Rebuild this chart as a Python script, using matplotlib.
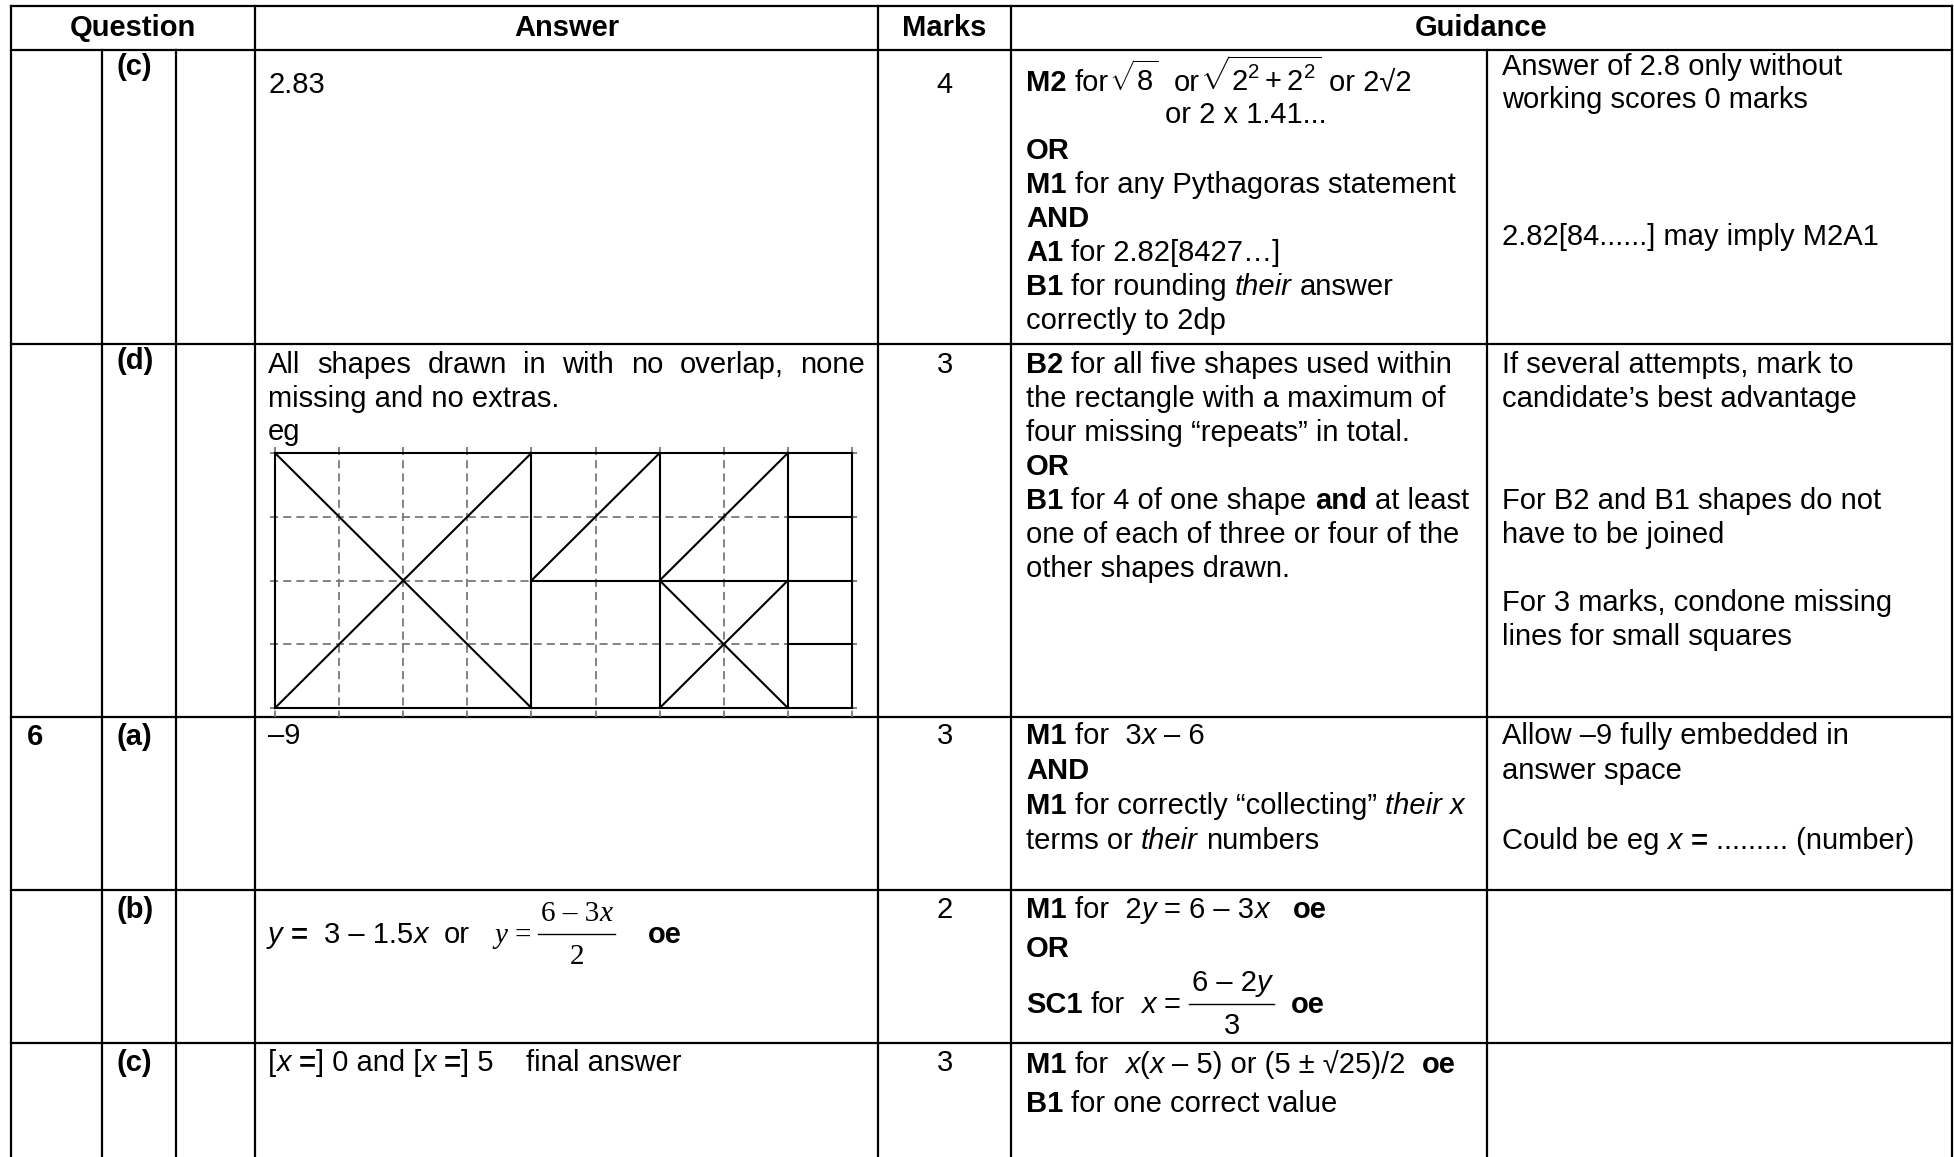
import matplotlib
matplotlib.use('Agg')
import matplotlib.pyplot as plt

plt.rcParams['mathtext.fontset'] = 'custom'
plt.rcParams['mathtext.rm'] = 'Liberation Sans'
plt.rcParams['mathtext.it'] = 'Liberation Sans:italic'
plt.rcParams['mathtext.bf'] = 'Liberation Sans:bold'

# ---- contenu du tableau ----
HEADERS = ['Question', 'Answer', 'Marks', 'Guidance']
Q_NUMBERS = ['', '', '6', '', '']
Q_PARTS = ['(c)', '(d)', '(a)', '(b)', '(c)']
MARKS = ['4', '3', '3', '2', '3']

# runs : (texte, style)  b=gras i=italique s=serif m=mathtext ; fraction = (num, 'f', den)
ANSWER_C = [[('2.83', '')]]
ANSWER_D = ['All shapes drawn in with no overlap, none', 'missing and no extras.', 'eg']
ANSWER_6A = [[('–9', '')]]
ANSWER_6B = [[('y', 'i'), (' = ', 'b'), (' 3 – 1.5', ''), ('x', 'i'), ('  or   ', ''),
              ('y', 'si'), (' = ', 's'),
              ([('6 – 3', 's'), ('x', 'si')], 'f', [('2', 's')]),
              ('    oe', 'b')]]
ANSWER_6C = [[('[', ''), ('x', 'i'), (' =', 'b'), ('] 0 and [', ''), ('x', 'i'), (' =', 'b'),
              ('] 5    final answer', '')]]

GUIDE_C = [
    [('M2', 'b'), (' for', ''), (r'$\sqrt{8}$', 'm'), ('  or', ''), (r'$\sqrt{2^2+2^2}$', 'm'), (' or 2√2', '')],
    [('or 2 x 1.41...', '')],
    [('OR', 'b')],
    [('M1', 'b'), (' for any Pythagoras statement', '')],
    [('AND', 'b')],
    [('A1', 'b'), (' for 2.82[8427…]', '')],
    [('B1', 'b'), (' for rounding ', ''), ('their', 'i'), (' answer', '')],
    [('correctly to 2dp', '')],
]
GUIDE_D = [
    [('B2', 'b'), (' for all five shapes used within', '')],
    [('the rectangle with a maximum of', '')],
    [('four missing “repeats” in total.', '')],
    [('OR', 'b')],
    [('B1', 'b'), (' for 4 of one shape ', ''), ('and', 'b'), (' at least', '')],
    [('one of each of three or four of the', '')],
    [('other shapes drawn.', '')],
]
GUIDE_6A = [
    [('M1', 'b'), (' for  3', ''), ('x', 'i'), (' – 6', '')],
    [('AND', 'b')],
    [('M1', 'b'), (' for correctly “collecting” ', ''), ('their x', 'i')],
    [('terms or ', ''), ('their', 'i'), (' numbers', '')],
]
GUIDE_6B = [
    [('M1', 'b'), (' for  2', ''), ('y', 'i'), (' = 6 – 3', ''), ('x', 'i'), ('   oe', 'b')],
    [('OR', 'b')],
    [('SC1', 'b'), (' for  ', ''), ('x', 'i'), (' = ', ''),
     ([('6 – 2', ''), ('y', 'i')], 'f', [('3', '')]), ('  oe', 'b')],
]
GUIDE_6C = [
    [('M1', 'b'), (' for  ', ''), ('x', 'i'), ('(', ''), ('x', 'i'), (' – 5) or (5 ± √25)/2  ', ''), ('oe', 'b')],
    [('B1', 'b'), (' for one correct value', '')],
]

NOTE_C1 = ['Answer of 2.8 only without', 'working scores 0 marks']
NOTE_C2 = ['2.82[84......] may imply M2A1']
NOTE_D = ['If several attempts, mark to', 'candidate’s best advantage', '', '',
          'For B2 and B1 shapes do not', 'have to be joined', '',
          'For 3 marks, condone missing', 'lines for small squares']
NOTE_6A = [[('Allow –9 fully embedded in', '')], [('answer space', '')], [],
           [('Could be eg ', ''), ('x', 'i'), (' = ', 'b'), ('......... (number)', '')]]

# croquis "eg" : grille 9 x 4, segments en unités de grille
GRID_COLS, GRID_ROWS = 9, 4
GRID_SEGMENTS = [
    ((0, 0), (9, 0)), ((0, 4), (9, 4)), ((0, 0), (0, 4)), ((9, 0), (9, 4)),
    ((4, 0), (4, 4)), ((6, 0), (6, 4)), ((8, 0), (8, 4)),
    ((4, 2), (9, 2)), ((8, 1), (9, 1)), ((8, 3), (9, 3)),
    ((0, 0), (4, 4)), ((0, 4), (4, 0)),
    ((4, 2), (6, 0)), ((6, 2), (8, 0)),
    ((6, 2), (8, 4)), ((6, 4), (8, 2)),
]

# ---- mise en page (pixels) ----
W, H = 1954, 1157
FS = 21
SANS = ['Liberation Sans', 'DejaVu Sans']
SERIF = ['Liberation Serif', 'DejaVu Serif']
VX = [11, 102, 176, 255, 878, 1011, 1487, 1952]
ROW_Y = [6, 50, 344, 717, 890, 1043]
LW = 1.6

fig = plt.figure(figsize=(W / 100, H / 100), dpi=100)
ax = fig.add_axes([0, 0, 1, 1])
ax.set_xlim(0, W)
ax.set_ylim(H, 0)
ax.axis('off')
renderer = fig.canvas.get_renderer()


def props(style):
    d = dict(fontsize=FS, family=SANS, color='black')
    if 'b' in style:
        d['fontweight'] = 'bold'
    if 'i' in style:
        d['fontstyle'] = 'italic'
    if 's' in style:
        d['family'] = SERIF
    return d


def width(s, style):
    t = ax.text(0, 0, s, **props(style))
    w = t.get_window_extent(renderer).width
    t.remove()
    return w


def adv(s, style):
    if 'm' in style:
        return width(s, style)
    return width('|' + s + '|', style) - width('||', style)


def runs_width(parts):
    return sum(adv(s, st) for s, st in parts)


def runs(x, y, parts):
    for part in parts:
        if len(part) == 3:
            num, _, den = part
            wn, wd = runs_width(num), runs_width(den)
            wf = max(wn, wd) + 6
            ax.plot([x, x + wf], [y - 9, y - 9], color='black', lw=1.0)
            runs(x + (wf - wn) / 2, y - 22, num)
            runs(x + (wf - wd) / 2, y + 21, den)
            x += wf
            continue
        s, style = part
        if 'm' in style:
            ax.text(x, y, s, va='baseline', ha='left', **props(style))
            x += width(s, style)
            continue
        core = s.strip()
        lead = s[:len(s) - len(s.lstrip())]
        if core:
            ax.text(x + (adv(lead, style) if lead else 0), y, core,
                    va='baseline', ha='left', **props(style))
        x += adv(s, style)
    return x


def lines(x, y0, dy, rows):
    for i, r in enumerate(rows):
        if isinstance(r, str):
            r = [(r, '')] if r else []
        runs(x, y0 + i * dy, r)


def justified(x0, x1, y, text):
    words = text.split(' ')
    ws = [adv(w, '') for w in words]
    gap = (x1 - x0 - sum(ws)) / (len(words) - 1)
    x = x0
    for w, wd in zip(words, ws):
        ax.text(x, y, w, va='baseline', ha='left', **props(''))
        x += wd + gap


# ---- lignes du tableau ----
def hline(y, xa=VX[0], xb=VX[-1]):
    ax.plot([xa, xb], [y, y], color='black', lw=LW, solid_capstyle='projecting')


def vline(x, ya, yb=H):
    ax.plot([x, x], [ya, yb], color='black', lw=LW, solid_capstyle='projecting')


for y in ROW_Y:
    hline(y)
for x in [VX[0], VX[3], VX[4], VX[5], VX[7]]:
    vline(x, ROW_Y[0])
for x in [VX[1], VX[2], VX[6]]:
    vline(x, ROW_Y[1])

# en-têtes
head_cx = [(VX[0] + VX[3]) / 2, (VX[3] + VX[4]) / 2, (VX[4] + VX[5]) / 2, (VX[5] + VX[7]) / 2]
for cx, h in zip(head_cx, HEADERS):
    ax.text(cx, 36, h, ha='center', va='baseline', **props('b'))

# colonnes question / marks
first_base = [75, 369, 745, 918, 1071]
marks_base = [93, 373, 744, 918, 1071]
for qn, qp, mk, yb, ym in zip(Q_NUMBERS, Q_PARTS, MARKS, first_base, marks_base):
    if qn:
        ax.text(27, yb, qn, ha='left', va='baseline', **props('b'))
    ax.text(117, yb, qp, ha='left', va='baseline', **props('b'))
    ax.text((VX[4] + VX[5]) / 2, ym, mk, ha='center', va='baseline', **props(''))

# réponses
XA = 268
lines(XA, 93, 34, ANSWER_C)
justified(XA, 865, 373, ANSWER_D[0])
lines(XA, 407, 33, ANSWER_D[1:])
lines(XA, 744, 34, ANSWER_6A)
lines(XA, 943, 34, ANSWER_6B)
lines(XA, 1071, 34, ANSWER_6C)

# guidance
XG = 1026
lines(XG, 91, 34, GUIDE_C[:1])
lines(1165, 123, 34, GUIDE_C[1:2])
lines(XG, 159, 34, GUIDE_C[2:])
lines(XG, 373, 34, GUIDE_D)
lines(XG, 744, 35, GUIDE_6A)
runs(XG, 918, GUIDE_6B[0])
runs(XG, 957, GUIDE_6B[1])
runs(XG, 1013, GUIDE_6B[2])
lines(XG, 1073, 39, GUIDE_6C)

XN = 1502
lines(XN, 75, 33, NOTE_C1)
lines(XN, 245, 33, NOTE_C2)
lines(XN, 373, 34, NOTE_D)
lines(XN, 744, 35, NOTE_6A)

# ---- croquis grille ----
gx0, gx1, gy0, gy1 = 275, 852, 453, 708
axg = fig.add_axes([gx0 / W, 1 - gy1 / H, (gx1 - gx0) / W, (gy1 - gy0) / H])
axg.set_xlim(0, GRID_COLS)
axg.set_ylim(GRID_ROWS, 0)
axg.axis('off')
for c in range(GRID_COLS + 1):
    axg.plot([c, c], [-0.1, GRID_ROWS + 0.14], color='#7a7a7a', lw=1.3,
             linestyle=(0, (4.5, 2.8)), clip_on=False)
for r in range(GRID_ROWS + 1):
    axg.plot([-0.08, GRID_COLS + 0.08], [r, r], color='#7a7a7a', lw=1.3,
             linestyle=(0, (4.5, 2.8)), clip_on=False)
for (xa, ya), (xb, yb) in GRID_SEGMENTS:
    axg.plot([xa, xb], [ya, yb], color='black', lw=1.5, clip_on=False,
             solid_capstyle='projecting')

fig.savefig('out.png', dpi=100)
